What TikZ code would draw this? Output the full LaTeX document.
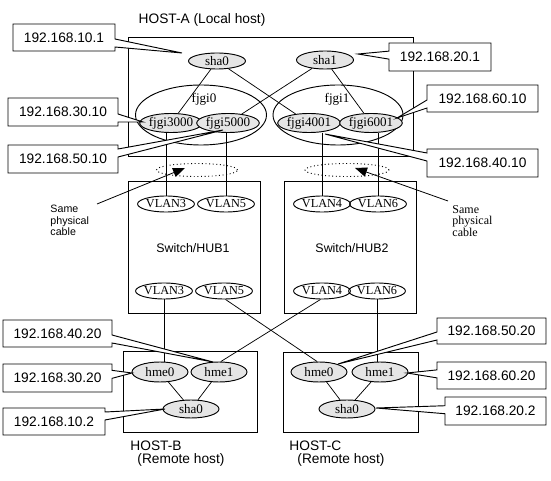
\documentclass[tikz,border=0pt]{standalone}
\usepackage{fontspec}
\setmainfont{Liberation Serif}
\setsansfont{Liberation Sans}
\usetikzlibrary{shapes.geometric,shapes.callouts,arrows.meta}
\newdimen\pu \pu=0.75pt
\begin{document}
\begin{tikzpicture}[x=0.75pt,y=-0.75pt, line width=0.7pt,
 hostbox/.style={draw, rectangle, inner sep=0pt},
 gell/.style={ellipse, draw, fill=black!10, inner sep=0pt, font=\fontsize{9.8}{10}\selectfont},
 vell/.style={ellipse, draw, inner sep=0pt, minimum width=49\pu, minimum height=16\pu, font=\fontsize{9.2}{10}\selectfont},
 bigell/.style={ellipse, draw, inner sep=0pt},
 cab/.style={ellipse, draw, dotted, inner sep=0pt, minimum height=13\pu},
 callbox/.style={rectangle callout, draw, fill=white, inner sep=0pt, callout pointer width=6pt, font=\sffamily\fontsize{10.3}{12}\selectfont},
 lbl/.style={font=\sffamily\fontsize{10.3}{12}\selectfont, inner sep=0pt},
 hublbl/.style={font=\sffamily\fontsize{9.3}{11}\selectfont, inner sep=0pt},
 conn/.style={line width=0.55pt},
 arr/.style={-{Triangle[length=9pt,width=7pt]}, line width=0.6pt}
]
\useasboundingbox (0,0) rectangle (551,481);
\fill[white] (0,0) rectangle (551,481);

% boxes
\node[hostbox, minimum width=285\pu, minimum height=119\pu] (hostA) at (270.5,96.5) {};
\node[hostbox, minimum width=132\pu, minimum height=132\pu] (hub1) at (194,247) {};
\node[hostbox, minimum width=132\pu, minimum height=132\pu] (hub2) at (350,247) {};
\node[hostbox, minimum width=134\pu, minimum height=81\pu] (hostB) at (190,391.5) {};
\node[hostbox, minimum width=135\pu, minimum height=80\pu] (hostC) at (350.5,392) {};

% labels
\node[lbl] (labA) at (202,20) {HOST-A (Local host)};
\node[hublbl] (labH1) at (193,248) {Switch/HUB1};
\node[hublbl] (labH2) at (352,248) {Switch/HUB2};
\node[lbl, anchor=west] (labB1) at (130,445.5) {HOST-B};
\node[lbl, anchor=west] (labB2) at (137,459.5) {(Remote host)};
\node[lbl, anchor=west] (labC1) at (289,445.5) {HOST-C};
\node[lbl, anchor=west] (labC2) at (297,459.5) {(Remote host)};

% HOST-A interfaces
\node[bigell, minimum width=131\pu, minimum height=60\pu] (fjgi0) at (201,115) {};
\node[bigell, minimum width=130\pu, minimum height=60\pu] (fjgi1) at (338,115) {};
\node[inner sep=0pt, font=\fontsize{9.8}{10}\selectfont] (lf0) at (204,99) {fjgi0};
\node[inner sep=0pt, font=\fontsize{9.8}{10}\selectfont] (lf1) at (337,99) {fjgi1};
\node[gell, minimum width=57\pu, minimum height=16\pu] (shaA0) at (217,61) {sha0};
\node[gell, minimum width=57\pu, minimum height=18\pu] (shaA1) at (325,60) {sha1};
\node[gell, minimum width=58\pu, minimum height=19\pu] (f3000) at (171,123) {fjgi3000};
\node[gell, minimum width=53\pu, minimum height=19\pu] (f5000) at (228,123) {fjgi5000};
\node[gell, minimum width=58\pu, minimum height=19\pu] (f4001) at (309,123) {fjgi4001};
\node[gell, minimum width=60\pu, minimum height=19\pu] (f6001) at (371,123) {fjgi6001};

\draw[conn] (shaA0) -- (f3000);
\draw[conn] (shaA0) -- (f4001);
\draw[conn] (shaA1) -- (f5000);
\draw[conn] (shaA1) -- (f6001);

% switches
\node[vell] (v3a) at (166,204) {VLAN3};
\node[vell] (v5a) at (226,204) {VLAN5};
\node[vell] (v4a) at (322,204) {VLAN4};
\node[vell] (v6a) at (378,204) {VLAN6};
\node[vell] (v3b) at (164,291) {VLAN3};
\node[vell] (v5b) at (224,291) {VLAN5};
\node[vell] (v4b) at (322,291) {VLAN4};
\node[vell] (v6b) at (377,291) {VLAN6};

% physical cable marks
\node[cab, minimum width=81\pu] (cab1) at (197,170) {};
\node[cab, minimum width=84\pu] (cab2) at (347,170) {};

\draw (v3a.north) -- (v3a.north |- f3000.south);
\draw (v5a.north) -- (v5a.north |- f5000.south);
\draw (v4a.north) -- (v4a.north |- f4001.south);
\draw (v6a.north) -- (v6a.north |- f6001.south);

% remote hosts
\node[gell, minimum width=56\pu, minimum height=20\pu] (hB0) at (160,372) {hme0};
\node[gell, minimum width=56\pu, minimum height=20\pu] (hB1) at (219,372) {hme1};
\node[gell, minimum width=56\pu, minimum height=18\pu] (sB0) at (191,409) {sha0};
\node[gell, minimum width=56\pu, minimum height=20\pu] (hC0) at (319,372) {hme0};
\node[gell, minimum width=56\pu, minimum height=20\pu] (hC1) at (380,372) {hme1};
\node[gell, minimum width=56\pu, minimum height=18\pu] (sC0) at (347,409) {sha0};

\draw[conn] (hB0) -- (sB0);
\draw[conn] (hB1) -- (sB0);
\draw[conn] (hC0) -- (sC0);
\draw[conn] (hC1) -- (sC0);

\draw (v3b.south) -- (v3b.south |- hB0.north);
\draw (v6b.south) -- (v6b.south |- hC1.north);
\draw[conn] (v5b.-80) -- (hC0.100);
\draw[conn] (v4b.-100) -- (hB1.80);

% same physical cable notes
\node[anchor=north west, align=left, inner sep=0pt, font=\sffamily\fontsize{8}{8.5}\selectfont] (spc1) at (50,205) {Same\\physical\\cable};
\node[anchor=north west, align=left, inner sep=0pt, font=\fontsize{9}{8.5}\selectfont] (spc2) at (452,205) {Same\\physical\\cable};
\coordinate (a1s) at (97,204);
\coordinate (a1e) at (185,168);
\coordinate (a2s) at (448,201);
\coordinate (a2e) at (355,168);
\draw[arr] (a1s) -- (a1e);
\draw[arr] (a2s) -- (a2e);

% callout tips
\coordinate (t101) at (182,53);
\coordinate (t201) at (358,54);
\coordinate (t3010) at (143,122);
\coordinate (t5010) at (223,130);
\coordinate (t6010) at (397,118);
\coordinate (t4010) at (325,134);
\coordinate (t4020) at (213,362);
\coordinate (t3020) at (132,373);
\coordinate (t102) at (165,409);
\coordinate (t5020) at (338,364);
\coordinate (t6020) at (407,373);
\coordinate (t202) at (376,408);

% callouts
\node[callbox, minimum width=102\pu, minimum height=27\pu, callout absolute pointer={(t101)}] (c101) at (64,37.5) {192.168.10.1};
\node[callbox, minimum width=102\pu, minimum height=28\pu, callout absolute pointer={(t201)}] (c201) at (440,57) {192.168.20.1};
\node[callbox, minimum width=110\pu, minimum height=28\pu, callout absolute pointer={(t3010)}] (c3010) at (63,112) {192.168.30.10};
\node[callbox, minimum width=110\pu, minimum height=28\pu, callout absolute pointer={(t5010)}] (c5010) at (63,159) {192.168.50.10};
\node[callbox, minimum width=111\pu, minimum height=27\pu, callout absolute pointer={(t6010)}] (c6010) at (482.5,98.5) {192.168.60.10};
\node[callbox, minimum width=111\pu, minimum height=28\pu, callout absolute pointer={(t4010)}] (c4010) at (482.5,163) {192.168.40.10};
\node[callbox, minimum width=109\pu, minimum height=27\pu, callout absolute pointer={(t4020)}] (c4020) at (57.5,333.5) {192.168.40.20};
\node[callbox, minimum width=109\pu, minimum height=28\pu, callout absolute pointer={(t3020)}] (c3020) at (57.5,378) {192.168.30.20};
\node[callbox, minimum width=102\pu, minimum height=27\pu, callout absolute pointer={(t102)}] (c102) at (54,421.5) {192.168.10.2};
\node[callbox, minimum width=109\pu, minimum height=26\pu, callout absolute pointer={(t5020)}] (c5020) at (491.5,331) {192.168.50.20};
\node[callbox, minimum width=109\pu, minimum height=27\pu, callout absolute pointer={(t6020)}] (c6020) at (491.5,375.5) {192.168.60.20};
\node[callbox, minimum width=101\pu, minimum height=28\pu, callout absolute pointer={(t202)}] (c202) at (495.5,411) {192.168.20.2};
\end{tikzpicture}
\end{document}
